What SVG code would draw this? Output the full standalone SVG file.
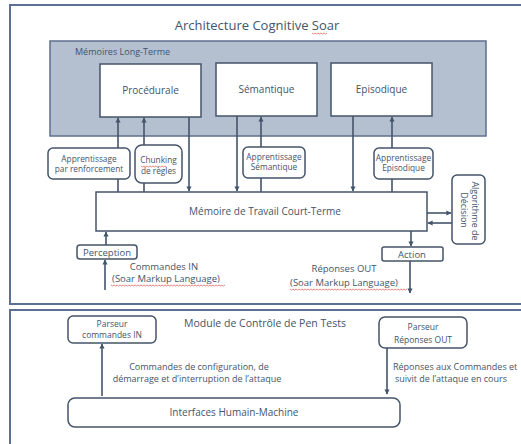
<svg xmlns="http://www.w3.org/2000/svg" width="521" height="444" viewBox="0 0 521 444">
  <defs>
    <style>
      text { font-family: "Open Sans", "Noto Sans", "Liberation Sans", sans-serif; fill: #44546a; text-anchor: middle; }
      .frame { fill: #ffffff; stroke: #5d6f95; stroke-width: 2; }
      .box { fill: #ffffff; stroke: #44546a; stroke-width: 1.5; }
      .ltm { fill: #b4bfd0; stroke: #5f6f8c; stroke-width: 1.5; }
      .link { fill: none; stroke: #44546a; stroke-width: 1.6; }
      .squiggle { fill: none; stroke: #e0504a; stroke-width: 0.7; }
      .t8 { font-size: 8.3px; }
      .t85 { font-size: 8.5px; }
      .t9 { font-size: 9px; }
      .t95 { font-size: 9.5px; }
      .t10 { font-size: 10px; }
    </style>
    <marker id="arrow" viewBox="0 0 10 10" refX="9" refY="5" markerWidth="3.2" markerHeight="3.2" orient="auto">
      <path d="M0,0 L10,5 L0,10 z" fill="#44546a"/>
    </marker>
  </defs>

  <rect width="521" height="444" fill="#ffffff"/>

  <!-- Soar cognitive architecture panel -->
  <g id="soar-panel">
    <rect class="frame" x="10" y="5" width="540" height="299"/>
    <text x="257" y="30" font-size="13">Architecture Cognitive Soar</text>
    <path class="squiggle" d="M312,33 l1.5,1 l1.5,-1 l1.5,1 l1.5,-1 l1.5,1 l1.5,-1 l1.5,1 l1.5,-1 l1.5,1 l1.5,-1"/>
  </g>

  <!-- Pen test control module panel -->
  <g id="pentest-panel">
    <rect class="frame" x="10" y="310" width="540" height="150"/>
    <text x="265" y="327" font-size="10.5">Module de Contrôle de Pen Tests</text>
  </g>

  <!-- Long-term memories -->
  <g id="long-term-memory">
    <rect class="ltm" x="50" y="41" width="436" height="95"/>
    <text x="75" y="55" class="t9" style="text-anchor:start">Mémoires Long-Terme</text>
  </g>

  <!-- Connectors (drawn under the learning boxes) -->
  <g id="connectors">
    <line class="link" x1="118" y1="192" x2="118" y2="118" marker-end="url(#arrow)"/>
    <line class="link" x1="144" y1="192" x2="144" y2="118" marker-end="url(#arrow)"/>
    <line class="link" x1="189" y1="117" x2="189" y2="191" marker-end="url(#arrow)"/>
    <line class="link" x1="237" y1="116" x2="237" y2="191" marker-end="url(#arrow)"/>
    <line class="link" x1="261" y1="192" x2="261" y2="117" marker-end="url(#arrow)"/>
    <line class="link" x1="353" y1="116" x2="353" y2="191" marker-end="url(#arrow)"/>
    <line class="link" x1="392" y1="192" x2="392" y2="117" marker-end="url(#arrow)"/>
    <line class="link" x1="427" y1="213" x2="451" y2="213" marker-end="url(#arrow)"/>
    <line class="link" x1="452" y1="223" x2="428" y2="223" marker-end="url(#arrow)"/>
    <line class="link" x1="106" y1="245" x2="106" y2="232" marker-end="url(#arrow)"/>
    <line class="link" x1="105" y1="290" x2="105" y2="260" marker-end="url(#arrow)"/>
    <line class="link" x1="411" y1="231" x2="411" y2="246" marker-end="url(#arrow)"/>
    <line class="link" x1="410" y1="261" x2="410" y2="293" marker-end="url(#arrow)"/>
    <line class="link" x1="102" y1="396" x2="102" y2="344" marker-end="url(#arrow)"/>
    <line class="link" x1="387" y1="348" x2="387" y2="394" marker-end="url(#arrow)"/>
  </g>

  <g id="procedurale">
    <rect class="box" x="100" y="64" width="101" height="53"/>
    <text x="150.5" y="94" class="t10">Procédurale</text>
  </g>
  <g id="semantique">
    <rect class="box" x="216" y="63" width="101" height="53"/>
    <text x="266.5" y="93" class="t10">Sémantique</text>
  </g>
  <g id="episodique">
    <rect class="box" x="331" y="63" width="101" height="53"/>
    <text x="381.5" y="93" class="t10">Episodique</text>
  </g>

  <g id="apprentissage-renforcement">
    <rect class="box" x="48" y="148" width="82" height="31" rx="5"/>
    <text x="89" y="162" class="t8">Apprentissage</text>
    <text x="89" y="172" class="t8">par renforcement</text>
  </g>
  <g id="chunking">
    <rect class="box" x="135" y="145" width="47" height="38" rx="7"/>
    <text x="158.5" y="163" class="t8">Chunking</text>
    <path class="squiggle" d="M141,166 l1.5,1 l1.5,-1 l1.5,1 l1.5,-1 l1.5,1 l1.5,-1 l1.5,1 l1.5,-1 l1.5,1 l1.5,-1 l1.5,1 l1.5,-1 l1.5,1 l1.5,-1 l1.5,1 l1.5,-1 l1.5,1"/>
    <text x="158.5" y="174" class="t8">de règles</text>
  </g>
  <g id="apprentissage-semantique">
    <rect class="box" x="243" y="147" width="62" height="31" rx="5"/>
    <text x="274" y="160" class="t8">Apprentissage</text>
    <text x="274" y="170" class="t8">Sémantique</text>
  </g>
  <g id="apprentissage-episodique">
    <rect class="box" x="374" y="148" width="59" height="31" rx="5"/>
    <text x="403.5" y="161" class="t8">Apprentissage</text>
    <text x="403.5" y="171" class="t8">Episodique</text>
  </g>

  <g id="memoire-travail">
    <rect class="box" x="96" y="192" width="331" height="39"/>
    <text x="265" y="214.5" class="t10">Mémoire de Travail Court-Terme</text>
  </g>

  <g id="algorithme-decision">
    <rect class="box" x="452" y="175" width="33" height="69" rx="5"/>
    <text transform="translate(472,211) rotate(90)" class="t9">Algorithme de</text>
    <text transform="translate(461,210) rotate(90)" class="t9">Décision</text>
  </g>

  <g id="perception">
    <rect class="box" x="77" y="245" width="60" height="14" rx="3"/>
    <text x="107" y="255.5" class="t95">Perception</text>
  </g>
  <g id="action">
    <rect class="box" x="382" y="247" width="61" height="14" rx="2"/>
    <text x="412" y="257.5" class="t95">Action</text>
  </g>

  <g id="commandes-in-label">
    <text x="164" y="270" class="t95">Commandes IN</text>
    <text x="166" y="282" class="t95">(Soar Markup Language)</text>
    <path class="squiggle" d="M111,285 l1.5,1 l1.5,-1 l1.5,1 l1.5,-1 l1.5,1 l1.5,-1 l1.5,1 l1.5,-1 l1.5,1 l1.5,-1 l1.5,1 l1.5,-1 l1.5,1 l1.5,-1 l1.5,1 l1.5,-1 l1.5,1 l1.5,-1 l1.5,1 l1.5,-1 l1.5,1 l1.5,-1 l1.5,1 l1.5,-1 l1.5,1 l1.5,-1 l1.5,1 l1.5,-1 l1.5,1 l1.5,-1 l1.5,1 l1.5,-1 l1.5,1 l1.5,-1 l1.5,1 l1.5,-1 l1.5,1 l1.5,-1 l1.5,1 l1.5,-1 l1.5,1 l1.5,-1 l1.5,1 l1.5,-1 l1.5,1 l1.5,-1 l1.5,1 l1.5,-1 l1.5,1 l1.5,-1 l1.5,1 l1.5,-1 l1.5,1 l1.5,-1 l1.5,1 l1.5,-1 l1.5,1 l1.5,-1 l1.5,1 l1.5,-1 l1.5,1 l1.5,-1 l1.5,1 l1.5,-1 l1.5,1 l1.5,-1 l1.5,1 l1.5,-1 l1.5,1 l1.5,-1 l1.5,1 l1.5,-1 l1.5,1 l1.5,-1 l1.5,1 l1.5,-1"/>
  </g>
  <g id="reponses-out-label">
    <text x="344" y="272" class="t95">Réponses OUT</text>
    <text x="344" y="286" class="t95">(Soar Markup Language)</text>
    <path class="squiggle" d="M290,289 l1.5,1 l1.5,-1 l1.5,1 l1.5,-1 l1.5,1 l1.5,-1 l1.5,1 l1.5,-1 l1.5,1 l1.5,-1 l1.5,1 l1.5,-1 l1.5,1 l1.5,-1 l1.5,1 l1.5,-1 l1.5,1 l1.5,-1 l1.5,1 l1.5,-1 l1.5,1 l1.5,-1 l1.5,1 l1.5,-1 l1.5,1 l1.5,-1 l1.5,1 l1.5,-1 l1.5,1 l1.5,-1 l1.5,1 l1.5,-1 l1.5,1 l1.5,-1 l1.5,1 l1.5,-1 l1.5,1 l1.5,-1 l1.5,1 l1.5,-1 l1.5,1 l1.5,-1 l1.5,1 l1.5,-1 l1.5,1 l1.5,-1 l1.5,1 l1.5,-1 l1.5,1 l1.5,-1 l1.5,1 l1.5,-1 l1.5,1 l1.5,-1 l1.5,1 l1.5,-1 l1.5,1 l1.5,-1 l1.5,1 l1.5,-1 l1.5,1 l1.5,-1 l1.5,1 l1.5,-1 l1.5,1 l1.5,-1 l1.5,1 l1.5,-1 l1.5,1 l1.5,-1 l1.5,1 l1.5,-1 l1.5,1 l1.5,-1 l1.5,1 l1.5,-1 l1.5,1 l1.5,-1"/>
  </g>

  <g id="parseur-commandes-in">
    <rect class="box" x="68" y="316" width="88" height="27" rx="5"/>
    <text x="112" y="327" class="t85">Parseur</text>
    <text x="112" y="338" class="t85">commandes IN</text>
  </g>
  <g id="parseur-reponses-out">
    <rect class="box" x="379" y="317" width="88" height="31" rx="6"/>
    <text x="423" y="330" class="t85">Parseur</text>
    <text x="423" y="343" class="t85">Réponses OUT</text>
  </g>

  <g id="commandes-config-label">
    <text x="199" y="369.5" class="t9">Commandes de configuration, de</text>
    <text x="197" y="381.5" class="t9">démarrage et d’interruption de l’attaque</text>
  </g>
  <g id="reponses-commandes-label">
    <text x="393" y="369.5" class="t9" style="text-anchor:start">Réponses aux Commandes et</text>
    <text x="451" y="381.5" class="t9">suivit de l’attaque en cours</text>
  </g>

  <g id="interfaces-hm">
    <rect class="box" x="68" y="398" width="332" height="29" rx="7"/>
    <text x="234" y="416" class="t10">Interfaces Humain-Machine</text>
  </g>
</svg>
